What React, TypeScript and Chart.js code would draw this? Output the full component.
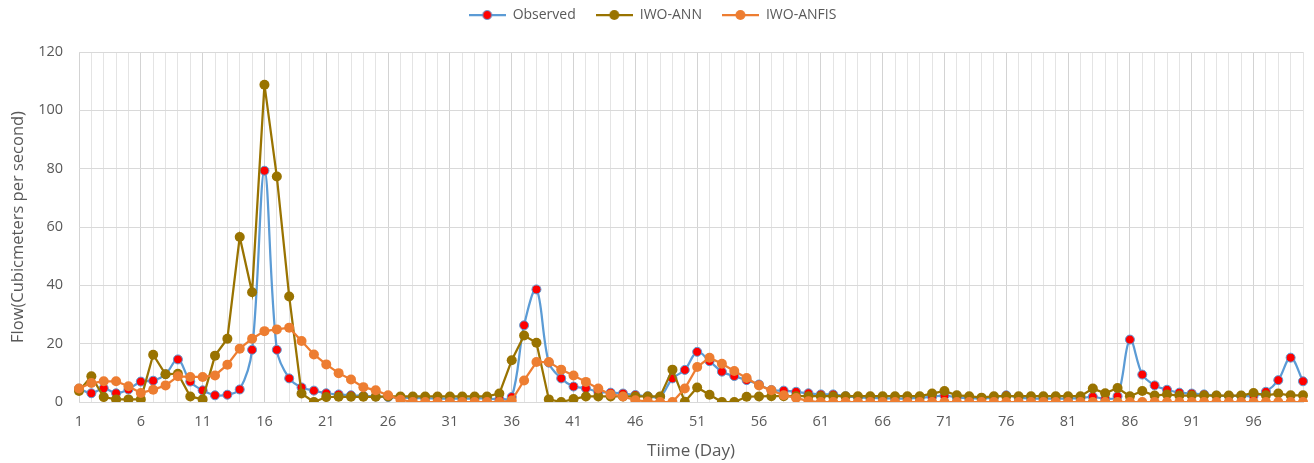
import React, { useEffect, useRef } from 'react';
import { Chart, registerables } from 'chart.js';

Chart.register(...registerables);

const days = [
  '1','2','3','4','5','6','7','8','9','10','11','12','13','14','15','16','17','18','19','20',
  '21','22','23','24','25','26','27','28','29','30','31','32','33','34','35','36','37','38','39','40',
  '41','42','43','44','45','46','47','48','49','50','51','52','53','54','55','56','57','58','59','60',
  '61','62','63','64','65','66','67','68','69','70','71','72','73','74','75','76','77','78','79','80',
  '81','82','83','84','85','86','87','88','89','90','91','92','93','94','95','96','97','98','99','100'
];

const tickLabels = ['1','6','11','16','21','26','31','36','41','46','51','56','61','66','71','76','81','86','91','96'];

const observed = [
  4.6, 3.0, 4.7, 3.0, 4.3, 7.0, 7.3, 9.5, 14.6, 7.0,
  4.0, 2.3, 2.5, 4.3, 17.9, 79.3, 17.9, 8.1, 5.0, 3.9,
  3.0, 2.6, 2.3, 2.1, 1.9, 1.7, 1.5, 1.4, 1.3, 1.2,
  1.2, 1.2, 1.2, 1.2, 1.0, 1.7, 26.3, 38.6, 13.5, 8.1,
  5.3, 4.7, 3.5, 3.2, 2.9, 2.4, 2.0, 1.8, 8.1, 11.0,
  17.2, 14.0, 10.4, 8.9, 7.5, 6.0, 4.1, 3.9, 3.5, 3.0,
  2.6, 2.6, 2.0, 1.6, 1.4, 1.3, 1.2, 1.2, 1.4, 1.8,
  2.2, 1.6, 1.3, 1.2, 1.5, 2.3, 1.5, 1.2, 1.2, 1.2,
  1.2, 1.3, 1.8, 1.1, 2.0, 21.4, 9.4, 5.7, 4.2, 3.2,
  2.9, 2.6, 2.2, 2.1, 2.1, 2.1, 3.5, 7.5, 15.2, 7.1
];

const iwoAnn = [
  3.8, 8.8, 1.7, 0.9, 0.9, 0.9, 16.2, 9.5, 9.7, 1.9,
  0.9, 15.9, 21.7, 56.6, 37.6, 108.8, 77.3, 36.2, 2.9, 0.0,
  1.7, 1.8, 1.8, 1.8, 1.8, 1.9, 1.9, 1.9, 1.9, 1.9,
  1.9, 1.9, 1.9, 1.9, 2.9, 14.3, 22.8, 20.3, 0.9, 0.0,
  1.0, 1.9, 1.9, 1.9, 1.9, 1.9, 1.9, 1.9, 11.1, 0.1,
  5.0, 2.5, 0.0, 0.0, 1.8, 1.9, 2.0, 2.0, 2.0, 2.0,
  2.0, 2.0, 2.0, 2.0, 2.0, 2.0, 2.0, 2.0, 2.0, 2.9,
  3.8, 2.3, 2.0, 1.5, 2.0, 2.0, 2.0, 2.0, 2.0, 2.0,
  2.0, 2.0, 4.6, 3.0, 4.8, 2.0, 3.8, 2.2, 2.6, 2.2,
  2.2, 2.2, 2.2, 2.2, 2.2, 3.1, 2.3, 2.9, 2.3, 2.3
];

const iwoAnfis = [
  4.6, 6.5, 7.1, 7.1, 5.4, 3.1, 4.2, 5.7, 8.8, 8.6,
  8.6, 9.1, 12.8, 18.3, 21.7, 24.3, 24.9, 25.5, 20.9, 16.3,
  12.9, 9.9, 7.7, 5.1, 4.0, 2.3, 0.8, 0.0, 0.0, 0.0,
  0.0, 0.0, 0.0, 0.0, 0.0, 0.5, 7.4, 13.7, 13.7, 11.1,
  9.1, 6.9, 4.6, 2.6, 1.9, 0.6, 0.2, 0.0, 0.0, 4.6,
  12.0, 15.2, 13.1, 10.6, 8.2, 5.7, 4.0, 2.3, 1.4, 0.3,
  0.0, 0.0, 0.0, 0.0, 0.0, 0.0, 0.0, 0.0, 0.0, 0.0,
  0.0, 0.0, 0.0, 0.0, 0.0, 0.0, 0.0, 0.0, 0.0, 0.0,
  0.0, 0.0, 0.0, 0.0, 0.0, 0.0, 0.0, 0.0, 0.0, 0.0,
  0.0, 0.0, 0.0, 0.0, 0.0, 0.0, 0.0, 0.0, 0.0, 0.0
];

const yTicks = [0, 20, 40, 60, 80, 100, 120];

const FONT = "'Open Sans', 'Noto Sans', sans-serif";
const TEXT = '#595959';

function makeIcon(line: string, fill: string, stroke: string | null, r: number) {
  const c = document.createElement('canvas');
  c.width = 37;
  c.height = 12;
  const g = c.getContext('2d')!;
  g.strokeStyle = line;
  g.lineWidth = 2.25;
  g.beginPath();
  g.moveTo(0, 6);
  g.lineTo(37, 6);
  g.stroke();
  g.beginPath();
  g.arc(18.5, 6, r, 0, Math.PI * 2);
  g.fillStyle = fill;
  g.fill();
  if (stroke) {
    g.strokeStyle = stroke;
    g.lineWidth = 1;
    g.stroke();
  }
  return c;
}

export default function App() {
  const ref = useRef<HTMLCanvasElement | null>(null);

  useEffect(() => {
    if (!ref.current) return;
    const icons = [
      makeIcon('#5B9BD5', '#FF0000', '#5B9BD5', 4.5),
      makeIcon('#997300', '#997300', null, 5),
      makeIcon('#ED7D31', '#ED7D31', null, 5),
    ];
    const chart = new Chart(ref.current, {
      type: 'line',
      data: {
        labels: days,
        datasets: [
          {
            label: 'Observed',
            data: observed,
            borderColor: '#5B9BD5',
            backgroundColor: '#FF0000',
            borderWidth: 2.25,
            pointRadius: 4.5,
            pointBackgroundColor: '#FF0000',
            pointBorderColor: '#5B9BD5',
            pointBorderWidth: 1,
            tension: 0.35,
            order: 3,
          },
          {
            label: 'IWO-ANN',
            data: iwoAnn,
            borderColor: '#997300',
            backgroundColor: '#997300',
            borderWidth: 2.25,
            pointRadius: 5,
            pointBackgroundColor: '#997300',
            pointBorderColor: '#997300',
            pointBorderWidth: 0,
            tension: 0,
            order: 2,
          },
          {
            label: 'IWO-ANFIS',
            data: iwoAnfis,
            borderColor: '#ED7D31',
            backgroundColor: '#ED7D31',
            borderWidth: 2.25,
            pointRadius: 5,
            pointBackgroundColor: '#ED7D31',
            pointBorderColor: '#ED7D31',
            pointBorderWidth: 0,
            tension: 0,
            order: 1,
          },
        ],
      },
      options: {
        responsive: false,
        animation: false,
        devicePixelRatio: 1,
        layout: { padding: { top: -12, right: 9, left: 0, bottom: 0 } },
        plugins: {
          tooltip: { enabled: false },
          legend: {
            position: 'top',
            weight: 3000,
            labels: {
              usePointStyle: true,
              pointStyleWidth: 37,
              padding: 20,
              color: TEXT,
              font: { family: FONT, size: 14 },
              sort: (a: any, b: any) => a.datasetIndex - b.datasetIndex,
              generateLabels: (ch: any) => {
                const items = Chart.defaults.plugins.legend.labels.generateLabels(ch);
                return items.map((it: any) => ({ ...it, pointStyle: icons[it.datasetIndex], lineWidth: 0 }));
              },
            },
          },
          title: {
            display: true,
            text: ' ',
            font: { size: 10, lineHeight: 1 },
            padding: { top: 0, bottom: 10 },
          },
        },
        scales: {
          x: {
            offset: false,
            grid: {
              drawTicks: false,
              color: (c: any) => (c.index % 5 === 0 ? '#D3D3D3' : '#E4E4E4'),
              lineWidth: 1,
            },
            border: { display: true, color: '#D9D9D9' },
            ticks: {
              autoSkip: false,
              maxRotation: 0,
              minRotation: 0,
              padding: 11,
              color: TEXT,
              font: { family: FONT, size: 14.5 },
              callback: function (this: any, _v: any, i: number) {
                const l = days[i];
                return tickLabels.includes(l) ? l : '';
              },
            },
            title: {
              display: true,
              text: 'Tiime (Day)',
              color: TEXT,
              font: { family: FONT, size: 17 },
              padding: { top: 0, bottom: 2 },
            },
            afterFit: (s: any) => {
              s.height = 61;
            },
          },
          y: {
            min: 0,
            max: 120,
            afterBuildTicks: (s: any) => {
              s.ticks = yTicks.map((v) => ({ value: v }));
            },
            grid: { drawTicks: false, color: '#D9D9D9' },
            border: { display: false },
            ticks: {
              padding: 16,
              color: TEXT,
              font: { family: FONT, size: 14.5 },
            },
            title: {
              display: true,
              text: 'Flow(Cubicmeters per second)',
              color: TEXT,
              font: { family: FONT, size: 16.5 },
              padding: { top: 8, bottom: 0 },
            },
            afterFit: (s: any) => {
              s.width = 79;
            },
          },
        },
      },
    });
    return () => chart.destroy();
  }, []);

  return (
    <div style={{ position: 'absolute', left: 0, top: 0, width: 1314, height: 463, background: '#fff' }}>
      <canvas ref={ref} width={1314} height={463} />
    </div>
  );
}
